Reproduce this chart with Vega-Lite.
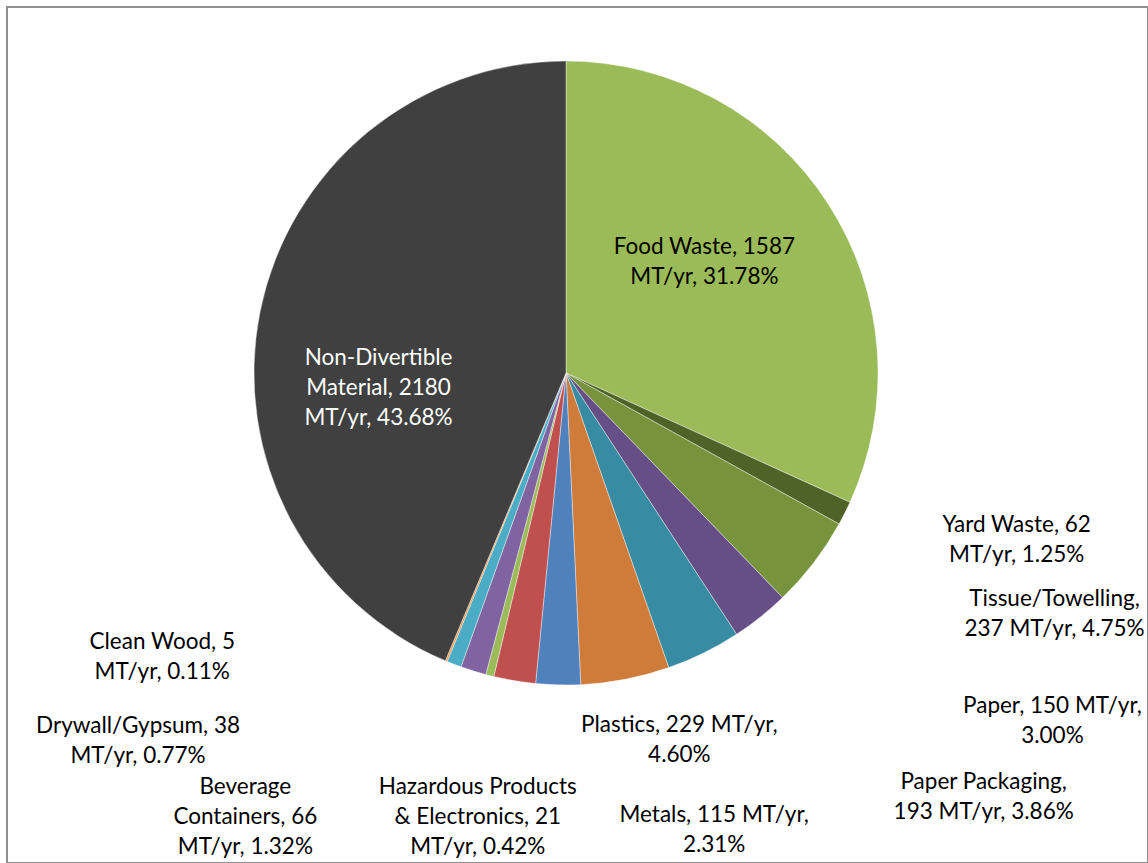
{
  "$schema": "https://vega.github.io/schema/vega-lite/v6.json",
  "width": 1141,
  "height": 856,
  "padding": {"left": 7, "top": 7, "right": 0, "bottom": 0},
  "autosize": {"type": "none"},
  "background": "white",
  "view": {"stroke": "#909090", "strokeWidth": 2},
  "data": {
    "values": [
      {"idx": 1, "cat": "Food Waste", "value": 1587, "label": "Food Waste, 1587|MT/yr, 31.78%"},
      {"idx": 2, "cat": "Yard Waste", "value": 62, "label": "Yard Waste, 62|MT/yr, 1.25%"},
      {"idx": 3, "cat": "Tissue/Towelling", "value": 237, "label": "Tissue/Towelling,|237 MT/yr, 4.75%"},
      {"idx": 4, "cat": "Paper", "value": 150, "label": "Paper, 150 MT/yr,|3.00%"},
      {"idx": 5, "cat": "Paper Packaging", "value": 193, "label": "Paper Packaging,|193 MT/yr, 3.86%"},
      {"idx": 6, "cat": "Plastics", "value": 229, "label": "Plastics, 229 MT/yr,|4.60%"},
      {"idx": 7, "cat": "Metals", "value": 115, "label": "Metals, 115 MT/yr,|2.31%"},
      {"idx": 8, "cat": "Other", "value": 108, "label": ""},
      {"idx": 9, "cat": "Hazardous Products & Electronics", "value": 21, "label": "Hazardous Products|& Electronics, 21|MT/yr, 0.42%"},
      {"idx": 10, "cat": "Beverage Containers", "value": 66, "label": "Beverage|Containers, 66|MT/yr, 1.32%"},
      {"idx": 11, "cat": "Drywall/Gypsum", "value": 38, "label": "Drywall/Gypsum, 38|MT/yr, 0.77%"},
      {"idx": 12, "cat": "Clean Wood", "value": 5, "label": "Clean Wood, 5|MT/yr, 0.11%"},
      {"idx": 13, "cat": "Non-Divertible Material", "value": 2180, "label": "Non-Divertible|Material, 2180|MT/yr, 43.68%"}
    ]
  },
  "encoding": {
    "theta": {"field": "value", "type": "quantitative", "stack": true},
    "order": {"field": "idx", "type": "quantitative"}
  },
  "layer": [
    {
      "mark": {"type": "arc", "radius": 312, "x": 559, "y": 366, "stroke": "#ffffff", "strokeWidth": 0.4},
      "encoding": {
        "color": {
          "field": "cat",
          "type": "nominal",
          "legend": null,
          "scale": {
            "domain": ["Food Waste", "Yard Waste", "Tissue/Towelling", "Paper", "Paper Packaging", "Plastics", "Metals", "Other", "Hazardous Products & Electronics", "Beverage Containers", "Drywall/Gypsum", "Clean Wood", "Non-Divertible Material"],
            "range": ["#9BBB59", "#4F6228", "#77933C", "#664F86", "#378CA3", "#CF7B3A", "#4F81BD", "#C0504D", "#9BBB59", "#8064A2", "#4BACC6", "#F79646", "#404040"]
          }
        }
      }
    },
    {
      "mark": {"type": "text", "radius": 180, "x": 559, "y": 366, "dx": -13, "dy": -29, "align": "center", "baseline": "middle", "lineBreak": "|", "lineHeight": 30, "font": "Lato", "fontSize": 22.5, "fill": "#000000"},
      "encoding": {"text": {"condition": {"test": "datum.cat === 'Food Waste'", "field": "label"}, "value": ""}}
    },
    {
      "mark": {"type": "text", "radius": 180, "x": 559, "y": 366, "dx": -11, "dy": 21, "align": "center", "baseline": "middle", "lineBreak": "|", "lineHeight": 30, "font": "Lato", "fontSize": 22.5, "fill": "#ffffff"},
      "encoding": {"text": {"condition": {"test": "datum.cat === 'Non-Divertible Material'", "field": "label"}, "value": ""}}
    },
    {
      "mark": {"type": "text", "radius": 312, "x": 559, "y": 366, "dx": 172, "dy": 12, "align": "center", "baseline": "middle", "lineBreak": "|", "lineHeight": 30, "font": "Lato", "fontSize": 22.5, "fill": "#000000"},
      "encoding": {"text": {"condition": {"test": "datum.cat === 'Yard Waste'", "field": "label"}, "value": ""}}
    },
    {
      "mark": {"type": "text", "radius": 312, "x": 559, "y": 366, "dx": 241, "dy": 36, "align": "center", "baseline": "middle", "lineBreak": "|", "lineHeight": 30, "font": "Lato", "fontSize": 22.5, "fill": "#000000"},
      "encoding": {"text": {"condition": {"test": "datum.cat === 'Tissue/Towelling'", "field": "label"}, "value": ""}}
    },
    {
      "mark": {"type": "text", "radius": 312, "x": 559, "y": 366, "dx": 292, "dy": 89, "align": "center", "baseline": "middle", "lineBreak": "|", "lineHeight": 30, "font": "Lato", "fontSize": 22.5, "fill": "#000000"},
      "encoding": {"text": {"condition": {"test": "datum.cat === 'Paper'", "field": "label"}, "value": ""}}
    },
    {
      "mark": {"type": "text", "radius": 312, "x": 559, "y": 366, "dx": 280, "dy": 129, "align": "center", "baseline": "middle", "lineBreak": "|", "lineHeight": 30, "font": "Lato", "fontSize": 22.5, "fill": "#000000"},
      "encoding": {"text": {"condition": {"test": "datum.cat === 'Paper Packaging'", "field": "label"}, "value": ""}}
    },
    {
      "mark": {"type": "text", "radius": 312, "x": 559, "y": 366, "dx": 54, "dy": 46, "align": "center", "baseline": "middle", "lineBreak": "|", "lineHeight": 30, "font": "Lato", "fontSize": 22.5, "fill": "#000000"},
      "encoding": {"text": {"condition": {"test": "datum.cat === 'Plastics'", "field": "label"}, "value": ""}}
    },
    {
      "mark": {"type": "text", "radius": 312, "x": 559, "y": 366, "dx": 156, "dy": 130, "align": "center", "baseline": "middle", "lineBreak": "|", "lineHeight": 30, "font": "Lato", "fontSize": 22.5, "fill": "#000000"},
      "encoding": {"text": {"condition": {"test": "datum.cat === 'Metals'", "field": "label"}, "value": ""}}
    },
    {
      "mark": {"type": "text", "radius": 312, "x": 559, "y": 366, "dx": -12, "dy": 111, "align": "center", "baseline": "middle", "lineBreak": "|", "lineHeight": 30, "font": "Lato", "fontSize": 22.5, "fill": "#000000"},
      "encoding": {"text": {"condition": {"test": "datum.cat === 'Hazardous Products & Electronics'", "field": "label"}, "value": ""}}
    },
    {
      "mark": {"type": "text", "radius": 312, "x": 559, "y": 366, "dx": -228, "dy": 116, "align": "center", "baseline": "middle", "lineBreak": "|", "lineHeight": 30, "font": "Lato", "fontSize": 22.5, "fill": "#000000"},
      "encoding": {"text": {"condition": {"test": "datum.cat === 'Beverage Containers'", "field": "label"}, "value": ""}}
    },
    {
      "mark": {"type": "text", "radius": 312, "x": 559, "y": 366, "dx": -316, "dy": 62, "align": "center", "baseline": "middle", "lineBreak": "|", "lineHeight": 30, "font": "Lato", "fontSize": 22.5, "fill": "#000000"},
      "encoding": {"text": {"condition": {"test": "datum.cat === 'Drywall/Gypsum'", "field": "label"}, "value": ""}}
    },
    {
      "mark": {"type": "text", "radius": 312, "x": 559, "y": 366, "dx": -284, "dy": -19, "align": "center", "baseline": "middle", "lineBreak": "|", "lineHeight": 30, "font": "Lato", "fontSize": 22.5, "fill": "#000000"},
      "encoding": {"text": {"condition": {"test": "datum.cat === 'Clean Wood'", "field": "label"}, "value": ""}}
    }
  ]
}
